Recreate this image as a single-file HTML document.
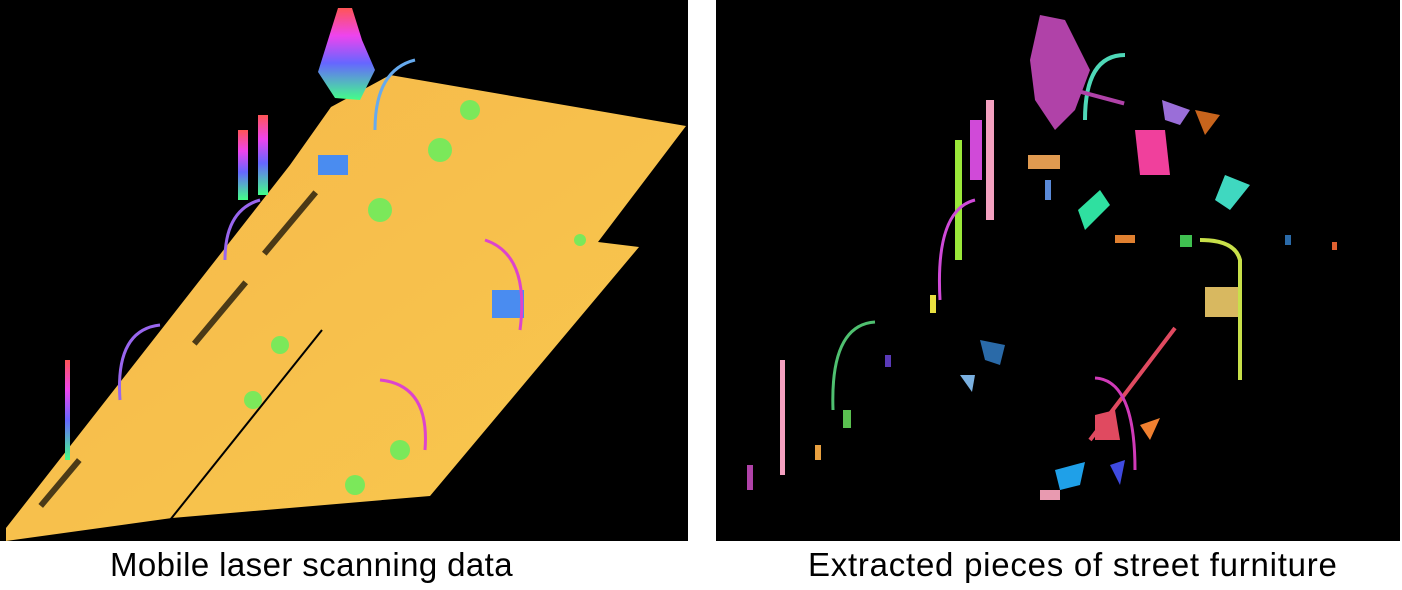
<!DOCTYPE html>
<html><head><style>
body{margin:0;background:#fff;width:1402px;height:590px;overflow:hidden;font-family:"Liberation Sans",sans-serif}
.cap{position:absolute;top:546px;font-size:33px;color:#000;white-space:nowrap}
</style></head><body>
<svg width="1402" height="590" style="position:absolute;left:0;top:0">
<defs>
<linearGradient id="tr" x1="0" y1="0" x2="0" y2="1"><stop offset="0" stop-color="#f55"/><stop offset=".3" stop-color="#e4e"/><stop offset=".6" stop-color="#66f"/><stop offset="1" stop-color="#4f8"/></linearGradient>
<linearGradient id="pl" x1="0" y1="0" x2="1" y2="1"><stop offset="0" stop-color="#f6b84a"/><stop offset="1" stop-color="#f8c84e"/></linearGradient>
</defs>
<rect x="0" y="0" width="688" height="541" fill="#000"/>
<polygon points="6,541 172,518 430,496 639,247 598,242 686,126 390,75 331,107 290,165 6,528" fill="url(#pl)"/>
<line x1="170" y1="520" x2="322" y2="330" stroke="#000" stroke-width="2"/>
<g fill="#000" opacity=".7">
<rect x="250" y="220" width="80" height="6" transform="rotate(-50 290 223)"/>
<rect x="180" y="310" width="80" height="6" transform="rotate(-50 220 313)"/>
<rect x="30" y="480" width="60" height="6" transform="rotate(-50 60 483)"/>
</g>
<path d="M338 8 L352 8 L362 40 L375 70 L360 100 L335 98 L318 72 L328 40Z" fill="url(#tr)"/>
<rect x="238" y="130" width="10" height="70" fill="url(#tr)"/>
<rect x="258" y="115" width="10" height="80" fill="url(#tr)"/>
<rect x="65" y="360" width="5" height="100" fill="url(#tr)"/>
<rect x="318" y="155" width="30" height="20" fill="#4a8cf0"/>
<rect x="492" y="290" width="32" height="28" fill="#4a8cf0"/>
<g fill="none" stroke-width="3">
<path d="M375 130 Q375 70 415 60" stroke="#6ae"/>
<path d="M520 330 Q530 255 485 240" stroke="#d4c"/>
<path d="M425 450 Q430 385 380 380" stroke="#d4c"/>
<path d="M120 400 Q115 330 160 325" stroke="#96e"/>
<path d="M225 260 Q225 210 260 200" stroke="#96e"/>
</g>
<g fill="#7be85a">
<circle cx="470" cy="110" r="10"/><circle cx="440" cy="150" r="12"/><circle cx="380" cy="210" r="12"/><circle cx="280" cy="345" r="9"/><circle cx="253" cy="400" r="9"/><circle cx="400" cy="450" r="10"/><circle cx="355" cy="485" r="10"/><circle cx="580" cy="240" r="6"/>
</g>
<rect x="716" y="0" width="684" height="541" fill="#000"/>
<g>
<path d="M1040 15 L1065 20 L1090 70 L1075 110 L1055 130 L1035 100 L1030 60Z" fill="#b042a8"/>
<path d="M1085 120 Q1085 55 1125 55" fill="none" stroke="#4fd8b8" stroke-width="4"/>
<rect x="1080" y="95" width="45" height="4" fill="#b042a8" transform="rotate(15 1100 97)"/>
<rect x="986" y="100" width="8" height="120" fill="#f4a0c0"/>
<rect x="970" y="120" width="12" height="60" fill="#d04ad8"/>
<rect x="955" y="140" width="7" height="120" fill="#9be83a"/>
<path d="M940 300 Q935 210 975 200" fill="none" stroke="#d04ad8" stroke-width="3"/>
<path d="M833 410 Q830 325 875 322" fill="none" stroke="#4fc070" stroke-width="3"/>
<rect x="780" y="360" width="5" height="115" fill="#f4a0c0"/>
<rect x="1028" y="155" width="32" height="14" fill="#e09a50"/>
<path d="M1078 210 L1100 190 L1110 205 L1085 230Z" fill="#2fe0a0"/>
<path d="M1135 130 L1165 130 L1170 175 L1140 175Z" fill="#f0409c"/>
<path d="M1162 100 L1190 110 L1180 125 L1165 120Z" fill="#9a6ed8"/>
<path d="M1195 110 L1220 115 L1205 135Z" fill="#c8641c"/>
<path d="M1240 380 L1240 260 Q1235 240 1200 240" fill="none" stroke="#c8e04a" stroke-width="4"/>
<rect x="1205" y="287" width="33" height="30" fill="#d8b860"/>
<line x1="1175" y1="328" x2="1090" y2="440" stroke="#e04a60" stroke-width="4"/>
<path d="M1095 378 Q1135 380 1135 470" fill="none" stroke="#d03ab8" stroke-width="3"/>
<path d="M1095 415 L1115 410 L1120 440 L1095 440Z" fill="#e04a60"/>
<path d="M1055 470 L1085 462 L1080 485 L1060 490Z" fill="#1fa0e8"/>
<path d="M1140 425 L1160 418 L1150 440Z" fill="#f08030"/>
<path d="M1110 465 L1125 460 L1120 485Z" fill="#3f4ae0"/>
<rect x="1040" y="490" width="20" height="10" fill="#e89ab0"/>
<path d="M980 340 L1005 345 L1000 365 L985 360Z" fill="#2a6aa8"/>
<path d="M960 375 L975 375 L972 392Z" fill="#7ab0e0"/>
<path d="M1225 175 L1250 185 L1230 210 L1215 200Z" fill="#3fd8c0"/>
<rect x="747" y="465" width="6" height="25" fill="#b042a8"/>
<rect x="843" y="410" width="8" height="18" fill="#5ac050"/>
<rect x="815" y="445" width="6" height="15" fill="#e8a040"/>
<rect x="930" y="295" width="6" height="18" fill="#e8e040"/>
<rect x="885" y="355" width="6" height="12" fill="#5a3ab8"/>
<rect x="1045" y="180" width="6" height="20" fill="#5a8ad8"/>
<rect x="1115" y="235" width="20" height="8" fill="#e08030"/>
<rect x="1180" y="235" width="12" height="12" fill="#3fc050"/>
<rect x="1285" y="235" width="6" height="10" fill="#2a6aa8"/>
<rect x="1332" y="242" width="5" height="8" fill="#e06030"/>
</g>
</svg>
<div class="cap" style="left:110px;letter-spacing:0.4px">Mobile laser scanning data</div>
<div class="cap" style="left:808px;letter-spacing:0.75px">Extracted pieces of street furniture</div>
</body></html>
